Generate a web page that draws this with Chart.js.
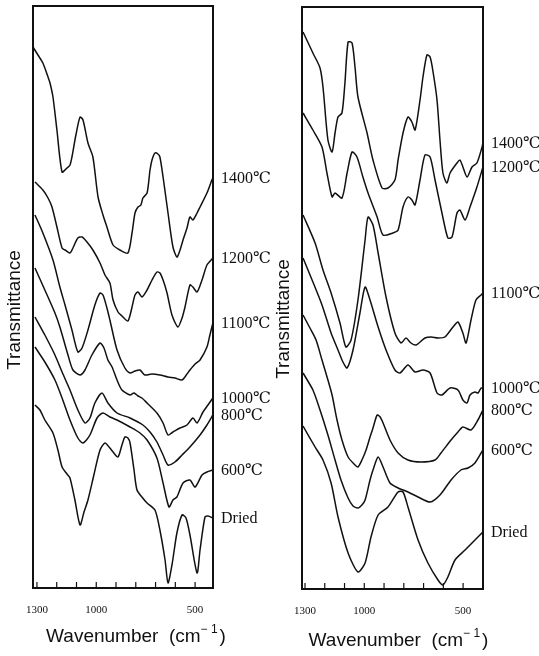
<!DOCTYPE html>
<html>
<head>
<meta charset="utf-8">
<title>IR spectra</title>
<script src="https://cdn.jsdelivr.net/npm/chart.js@4.4.0/dist/chart.umd.min.js"></script>
<style>
  html, body { margin: 0; padding: 0; background: #fff; }
  #wrap { position: relative; width: 539px; height: 656px; background: #fff; }
  #wrap canvas { position: absolute; left: 0; top: 0; }
</style>
</head>
<body>
<div id="wrap">
  <canvas id="leftChart" width="539" height="656"></canvas>
  <canvas id="rightChart" width="539" height="656"></canvas>
</div>
<script>
// Curve names (same order in both panels)
const curveLabels = ['1400℃', '1200℃', '1100℃', '1000℃', '800℃', '600℃', 'Dried'];

// Wavenumber ticks
const tickValues = [1300, 1200, 1100, 1000, 900, 800, 700, 600, 500];
const tickLabels = [1300, 1000, 500];

// Left panel: [wavenumber (cm-1), transmittance (arb., offset)]
const left1400 = [[1320,54.1],[1295,53.3],[1270,52.5],[1244,51.1],[1234,50.5],[1219,49.1],[1199,45.8],[1173,41.6],[1148,42.0],[1133,42.3],[1123,43.1],[1103,45.3],[1082,47.1],[1067,46.8],[1042,44.5],[1017,43.1],[991,39.1],[966,37.3],[946,36.1],[915,34.3],[880,33.8],[840,33.5],[819,35.5],[804,37.5],[789,38.1],[774,38.3],[764,39.0],[743,39.5],[728,41.8],[718,42.8],[703,43.5],[688,43.4],[678,43.1],[662,41.1],[637,37.5],[612,34.1],[592,33.1],[576,33.8],[561,34.8],[541,36.0],[526,37.1],[511,36.8],[490,37.5],[475,38.1],[440,39.5],[415,40.8],[410,41.0]];
const left1200 = [[1310,40.6],[1270,39.8],[1244,39.0],[1224,38.1],[1199,36.1],[1173,34.0],[1158,33.8],[1133,33.5],[1118,34.0],[1093,35.0],[1072,35.1],[1047,34.6],[1017,33.8],[981,32.5],[956,31.3],[931,30.5],[915,28.8],[890,27.6],[870,27.2],[840,26.7],[819,28.1],[804,29.3],[789,29.6],[769,29.1],[743,29.8],[718,30.8],[693,31.6],[678,31.5],[662,30.8],[642,29.5],[617,27.3],[587,26.1],[566,27.0],[551,28.1],[526,30.3],[511,30.1],[490,29.6],[465,30.8],[440,32.3],[410,33.0]];
const left1100 = [[1310,37.3],[1270,35.5],[1219,32.8],[1184,30.1],[1158,28.3],[1123,25.8],[1093,23.6],[1072,24.0],[1042,25.8],[1007,28.3],[981,29.5],[966,29.3],[946,28.0],[931,26.8],[895,23.8],[855,22.0],[829,21.5],[804,21.7],[779,21.8],[754,21.3],[718,21.4],[678,21.3],[637,21.1],[602,21.0],[566,20.8],[541,21.4],[526,21.8],[500,22.4],[475,22.8],[440,24.1],[425,25.3],[410,26.5]];
const left1000 = [[1310,32.0],[1260,29.8],[1209,27.5],[1184,26.1],[1143,23.3],[1118,21.8],[1082,21.3],[1057,21.8],[1022,23.3],[981,24.5],[961,24.0],[941,22.8],[920,22.1],[895,20.8],[870,19.8],[829,19.3],[809,19.5],[789,19.2],[769,19.0],[743,18.5],[693,17.5],[662,16.5],[637,15.3],[612,15.6],[576,16.0],[541,16.3],[511,17.0],[490,16.5],[460,17.6],[435,18.3],[410,19.0]];
const left800 = [[1310,27.1],[1260,25.3],[1209,23.3],[1173,21.6],[1133,19.8],[1093,17.8],[1057,16.5],[1032,17.0],[1007,18.5],[971,19.5],[941,18.5],[895,17.5],[829,17.0],[764,16.3],[728,15.6],[693,14.6],[662,13.3],[637,12.3],[602,12.6],[566,13.3],[526,14.1],[475,15.3],[440,16.3],[410,17.3]];
const left600 = [[1310,24.1],[1260,22.6],[1209,20.8],[1173,19.0],[1133,16.8],[1093,15.0],[1067,14.5],[1032,15.3],[996,17.0],[966,17.5],[931,17.1],[895,16.8],[829,16.1],[779,15.5],[743,14.8],[693,13.0],[662,10.5],[632,8.1],[612,8.8],[592,9.1],[561,10.5],[526,10.8],[500,10.1],[465,11.3],[440,11.6],[410,11.8]];
const leftDried = [[1310,18.3],[1285,17.8],[1260,16.8],[1219,15.5],[1194,13.8],[1173,12.1],[1148,11.4],[1133,11.0],[1108,8.8],[1082,6.3],[1062,7.6],[1042,8.8],[1012,11.3],[981,13.8],[956,14.5],[931,14.0],[915,13.6],[890,13.1],[870,14.3],[855,15.1],[840,15.0],[829,14.5],[809,11.8],[794,9.8],[769,9.1],[743,8.5],[703,7.8],[678,5.8],[652,2.8],[637,0.5],[617,2.3],[592,5.5],[566,7.3],[546,7.0],[526,5.3],[490,1.5],[475,3.8],[450,7.1],[435,7.2],[410,7.0]];

// Right panel
const right1400 = [[1310,55.7],[1260,53.6],[1224,52.1],[1209,50.2],[1184,44.9],[1163,43.7],[1148,45.6],[1133,47.2],[1113,47.6],[1098,50.6],[1082,54.7],[1062,54.6],[1047,52.2],[1032,49.2],[986,45.6],[956,42.9],[910,40.1],[880,40.1],[845,40.9],[829,42.9],[804,45.6],[779,47.2],[759,46.7],[743,45.9],[718,48.9],[703,51.2],[683,53.4],[667,53.2],[652,51.7],[632,48.9],[617,44.9],[602,41.6],[582,40.6],[566,41.6],[531,42.6],[516,42.9],[501,42.2],[480,41.2],[455,42.2],[430,42.6],[404,44.2],[400,44.6]];
const right1200 = [[1310,47.6],[1260,45.9],[1214,44.2],[1189,41.6],[1163,39.2],[1148,39.6],[1113,39.1],[1087,41.6],[1062,43.7],[1037,43.2],[1007,41.2],[981,39.6],[935,37.2],[905,35.4],[855,35.6],[829,35.9],[804,38.2],[779,39.2],[759,38.9],[743,38.4],[718,40.9],[693,43.4],[667,43.2],[642,40.9],[607,37.6],[577,35.1],[556,35.2],[531,37.6],[516,37.9],[490,36.9],[465,38.2],[430,40.2],[404,41.9],[400,42.2]];
const right1100 = [[1310,37.4],[1249,34.6],[1209,31.9],[1168,29.6],[1123,26.6],[1093,24.2],[1067,24.9],[1032,28.9],[996,34.9],[981,37.2],[956,36.4],[930,33.6],[890,29.2],[845,25.6],[814,24.6],[789,25.1],[764,24.6],[738,24.4],[693,25.1],[662,25.2],[627,25.1],[592,25.2],[551,26.2],[526,26.7],[501,25.6],[485,24.6],[460,26.9],[435,28.9],[409,29.4],[400,29.6]];
const right1000 = [[1310,33.1],[1260,30.7],[1214,28.4],[1168,25.6],[1133,23.9],[1108,22.7],[1087,22.1],[1057,23.9],[1022,27.6],[996,30.2],[971,28.9],[930,26.2],[890,23.9],[845,21.9],[819,21.6],[779,22.4],[743,21.7],[703,21.9],[667,21.6],[632,19.6],[607,19.4],[566,20.1],[526,19.9],[501,18.9],[480,18.6],[465,19.4],[440,19.7],[425,19.6],[409,20.1],[400,20.1]];
const right800 = [[1310,27.4],[1275,26.1],[1244,24.9],[1214,22.9],[1184,20.9],[1163,19.4],[1138,16.9],[1113,14.9],[1082,13.2],[1052,12.5],[1032,12.2],[1012,12.9],[991,13.9],[971,15.2],[956,16.1],[935,17.4],[920,17.2],[905,16.6],[870,14.9],[829,13.6],[779,12.9],[713,12.7],[642,12.9],[612,13.6],[561,14.9],[526,15.7],[501,16.2],[460,15.9],[425,16.9],[400,17.9]];
const right600 = [[1310,21.6],[1260,19.9],[1224,17.9],[1184,15.4],[1148,12.9],[1118,10.9],[1082,9.1],[1057,8.3],[1032,8.1],[1012,8.4],[996,8.9],[971,10.9],[956,11.9],[930,13.2],[905,12.2],[870,10.6],[829,10.1],[779,9.7],[728,9.2],[667,8.7],[617,9.4],[561,10.9],[511,11.9],[475,12.1],[440,12.6],[400,13.9]];
const rightDried = [[1310,16.3],[1249,14.2],[1209,12.9],[1168,10.6],[1133,7.2],[1082,3.6],[1032,1.7],[996,2.6],[966,5.2],[930,7.4],[880,8.2],[829,9.7],[804,9.7],[779,8.2],[728,4.9],[678,2.6],[627,0.9],[602,0.4],[577,1.2],[541,2.9],[490,3.9],[440,4.9],[400,5.7]];

const leftSeries = [left1400, left1200, left1100, left1000, left800, left600, leftDried];
const rightSeries = [right1400, right1200, right1100, right1000, right800, right600, rightDried];

// Frame, ticks, curve names and axis titles
const panelDecor = {
    id: 'panelDecor',
    afterDatasetsDraw(chart, args, opts) {
        const { ctx, chartArea: a } = chart;
        const x = chart.scales.x;
        const y = chart.scales.y;
        ctx.save();
        ctx.strokeStyle = '#111';
        ctx.fillStyle = '#111';

        // box
        ctx.lineWidth = 2;
        ctx.strokeRect(a.left, a.top, a.right - a.left, a.bottom - a.top);

        // inward ticks along the bottom
        ctx.lineWidth = 1.2;
        tickValues.forEach(v => {
            const px = x.getPixelForValue(v);
            ctx.beginPath();
            ctx.moveTo(px, a.bottom);
            ctx.lineTo(px, a.bottom - 6);
            ctx.stroke();
        });

        ctx.font = '11px "Liberation Serif", serif';
        ctx.textAlign = 'center';
        ctx.textBaseline = 'middle';
        tickLabels.forEach(v => {
            ctx.fillText(String(v), x.getPixelForValue(v), a.bottom + 22);
        });

        // curve names at the right end of each trace
        ctx.font = '16px "Liberation Serif", "DejaVu Serif", serif';
        ctx.textAlign = 'left';
        chart.data.datasets.forEach(ds => {
            const last = ds.data[ds.data.length - 1];
            ctx.fillText(ds.label, a.right + 8, y.getPixelForValue(last.y) + 1);
        });

        // y title
        ctx.font = '19px "Liberation Sans", Arial, sans-serif';
        ctx.textAlign = 'center';
        ctx.save();
        ctx.translate(a.left - 18, (a.top + a.bottom) / 2 + opts.titleShift);
        ctx.rotate(-Math.PI / 2);
        ctx.fillText('Transmittance', 0, 0);
        ctx.restore();

        // x title with superscript
        const main = 'Wavenumber  (cm';
        const sup = '\u2212 1';
        const tail = ')';
        ctx.font = '19px "Liberation Sans", Arial, sans-serif';
        const wMain = ctx.measureText(main).width;
        const wTail = ctx.measureText(tail).width;
        ctx.font = '12px "Liberation Sans", Arial, sans-serif';
        const wSup = ctx.measureText(sup).width;
        const total = wMain + wSup + 2 + wTail;
        let sx = (a.left + a.right) / 2 + opts.xTitleShift - total / 2;
        const sy = a.bottom + 49 + opts.xTitleDrop;
        ctx.textAlign = 'left';
        ctx.font = '19px "Liberation Sans", Arial, sans-serif';
        ctx.fillText(main, sx, sy);
        sx += wMain;
        ctx.font = '12px "Liberation Sans", Arial, sans-serif';
        ctx.fillText(sup, sx, sy - 7);
        sx += wSup + 2;
        ctx.font = '19px "Liberation Sans", Arial, sans-serif';
        ctx.fillText(tail, sx, sy);

        ctx.restore();
    }
};

function buildPanel(canvasId, series, xMin, xMax, padding, decor) {
    const ctx = document.getElementById(canvasId).getContext('2d');
    return new Chart(ctx, {
        type: 'line',
        data: {
            datasets: series.map((pts, i) => ({
                label: curveLabels[i],
                data: pts.map(p => ({ x: p[0], y: p[1] })),
                borderColor: '#111',
                borderWidth: 1.5,
                pointRadius: 0,
                tension: 0.25,
                fill: false
            }))
        },
        options: {
            responsive: false,
            animation: false,
            layout: { padding: padding },
            plugins: {
                legend: { display: false },
                tooltip: { enabled: false },
                panelDecor: decor
            },
            scales: {
                x: { type: 'linear', reverse: true, min: xMin, max: xMax, display: false },
                y: { type: 'linear', min: 0, max: 58.2, display: false }
            }
        },
        plugins: [panelDecor]
    });
}

buildPanel('leftChart', leftSeries, 409.4, 1320,
    { left: 33, right: 539 - 213, top: 6, bottom: 656 - 588 },
    { titleShift: 13, xTitleShift: 13, xTitleDrop: 0 });

buildPanel('rightChart', rightSeries, 399.3, 1315.2,
    { left: 302, right: 539 - 483, top: 7, bottom: 656 - 589 },
    { titleShift: 21, xTitleShift: 6, xTitleDrop: 3 });
</script>
</body>
</html>
